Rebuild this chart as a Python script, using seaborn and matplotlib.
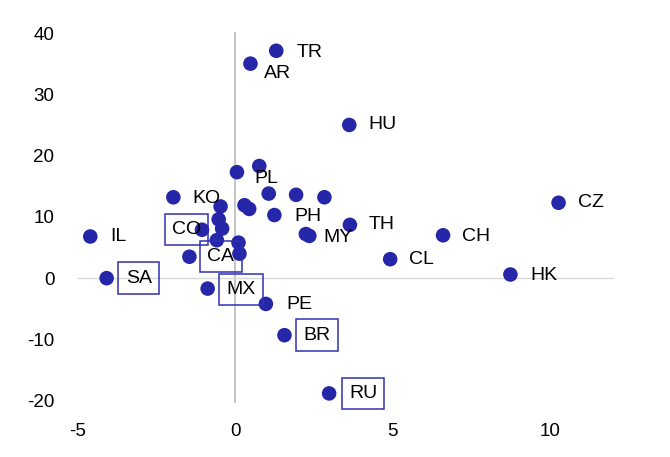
import matplotlib
matplotlib.use("Agg")
import matplotlib.pyplot as plt
import seaborn as sns
import pandas as pd

# data (x, y)
x_vals = [1.30, 0.48, 3.62, 0.76, 0.05, -1.97, -0.47, 0.29, 0.44, 1.06,
          1.93, 2.83, 1.24, 3.64, 2.24, 2.35, 10.27, 6.60, 4.92, 8.74,
          -4.61, -4.09, -1.06, -0.53, -0.42, -0.59, 0.10, 0.13, -1.46, -0.88,
          0.97, 1.56, 2.98]
y_vals = [37.1, 35.0, 25.0, 18.3, 17.3, 13.2, 11.7, 11.9, 11.3, 13.8,
          13.6, 13.2, 10.3, 8.7, 7.2, 6.9, 12.3, 7.0, 3.1, 0.6,
          6.8, 0.0, 7.9, 9.6, 8.1, 6.2, 5.8, 4.0, 3.5, -1.7,
          -4.2, -9.3, -18.8]

label_names = ["TR", "AR", "HU", "PL", "KO", "PH", "TH", "MY", "CZ", "CH",
               "CL", "HK", "IL", "PE", "SA", "CO", "CA", "MX", "BR", "RU"]
label_point = [0, 1, 2, 4, 5, 12, 13, 14, 16, 17,
               18, 19, 20, 30, 21, 22, 28, 29, 31, 32]
boxed_labels = ["SA", "CO", "CA", "MX", "BR", "RU"]

x_ticks = [-5, 0, 5, 10]
y_ticks = [-20, -10, 0, 10, 20, 30, 40]

# label offsets in pixels (dx right, dy down) -- styling
offsets = {"TR": (20, 2), "AR": (13, 10), "HU": (19, 0), "PL": (17, 6),
           "KO": (19, 1), "PH": (20, 1), "TH": (19, 0), "MY": (18, 3),
           "CZ": (19, 0), "CH": (19, 1), "CL": (19, 0), "HK": (20, 1),
           "IL": (20, 0), "PE": (20, 1), "SA": (19, 0), "CO": (-30, 0),
           "CA": (18, 0), "MX": (19, 1), "BR": (19, 0), "RU": (20, 0)}

df = pd.DataFrame({"x": x_vals, "y": y_vals})

sns.set_theme(style="white")
plt.rcParams["font.family"] = ["Liberation Sans", "DejaVu Sans"]

fig = plt.figure(figsize=(6.7, 4.57), dpi=100)
ax = fig.add_axes([78 / 670, 1 - 402 / 457, (613 - 78) / 670, (402 - 33) / 457])

dot_color = "#2626a8"
sns.scatterplot(data=df, x="x", y="y", ax=ax, color=dot_color, s=110,
                edgecolor="none", zorder=3)

ax.set_xlim(-5, 12)
ax.set_ylim(-20.2, 40)

for side in ["top", "right"]:
    ax.spines[side].set_visible(False)
ax.spines["bottom"].set_position(("data", 0))
ax.spines["left"].set_position(("data", 0))
ax.spines["bottom"].set_color("#d9d9d9")
ax.spines["left"].set_color("#bfbfbf")
ax.spines["bottom"].set_linewidth(1.0)
ax.spines["left"].set_linewidth(1.3)
ax.set_xticks(x_ticks)
ax.set_yticks(y_ticks)
ax.tick_params(axis="x", labelbottom=False, length=5, color="#d9d9d9",
               direction="out", width=1)
ax.tick_params(axis="y", labelleft=False, length=0)
ax.set_xlabel("")
ax.set_ylabel("")
ax.grid(False)

secx = ax.secondary_xaxis("bottom")
secx.set_xticks(x_ticks)
secx.set_xticklabels([str(t) for t in x_ticks])
secx.spines["bottom"].set_visible(False)
secx.tick_params(length=0, pad=15, labelsize=13.5, labelcolor="black")

secy = ax.secondary_yaxis("left")
secy.set_yticks(y_ticks)
secy.set_yticklabels([str(t) for t in y_ticks])
secy.spines["left"].set_visible(False)
secy.tick_params(length=0, pad=17, labelsize=13.5, labelcolor="black")

for name, idx in zip(label_names, label_point):
    dx, dy = offsets[name]
    kw = {}
    if name in boxed_labels:
        kw["bbox"] = dict(boxstyle="square,pad=0.37", facecolor="none",
                          edgecolor="#3030b4", linewidth=1.1)
    ax.annotate(name, (x_vals[idx], y_vals[idx]), xytext=(dx, -dy),
                textcoords="offset pixels", ha="left", va="center",
                fontsize=14, color="black", zorder=4, **kw)

fig.savefig("out.png", dpi=100)
